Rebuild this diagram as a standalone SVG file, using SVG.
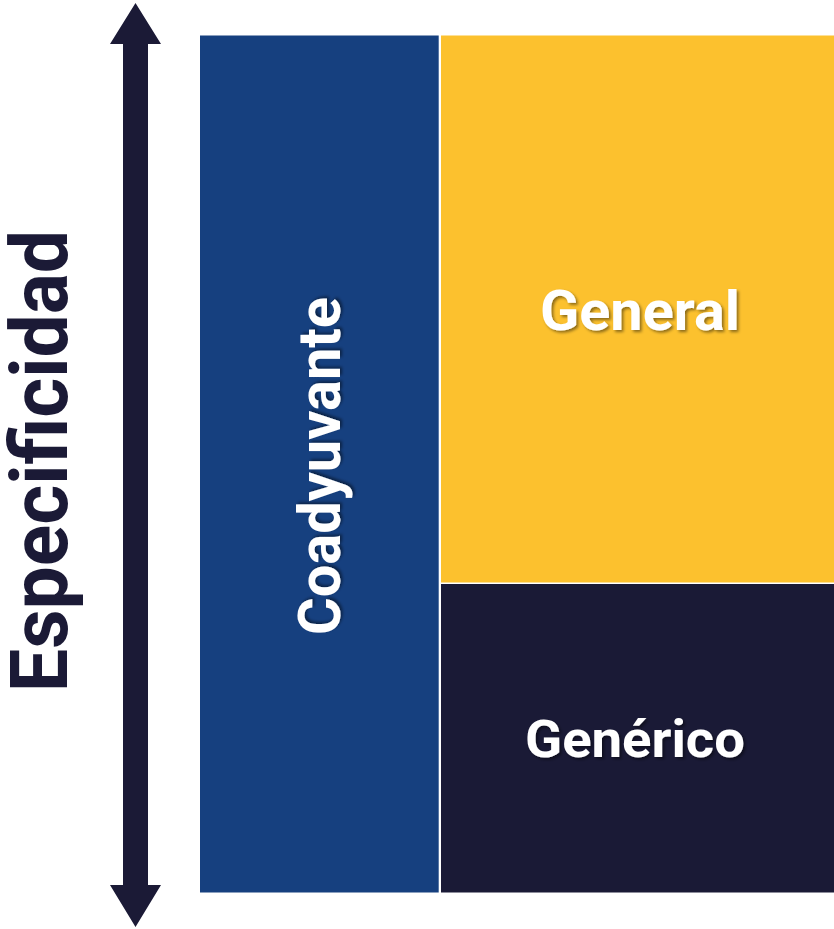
<svg xmlns="http://www.w3.org/2000/svg" width="834" height="929" viewBox="0 0 834 929">
  <style>
    .lbl { font-family: Roboto, "Open Sans", "DejaVu Sans", sans-serif; font-weight: 700; fill: #ffffff; filter: url(#shade); }
    .axis { font-family: Roboto, "Open Sans", "DejaVu Sans", sans-serif; font-weight: 700; fill: #1b1a36; }
  </style>
  <defs>
    <filter id="shade" x="-10%" y="-20%" width="130%" height="150%">
      <feDropShadow dx="2" dy="2" stdDeviation="1.5" flood-color="#000000" flood-opacity="0.45"/>
    </filter>
  </defs>
  <rect width="834" height="929" fill="#ffffff"/>

  <!-- vertical double-headed axis -->
  <g id="connectors">
    <path d="M135.5 3 L161 44 L148 44 L148 885 L161 885 L135.5 927 L110 885 L123 885 L123 44 L110 44 Z" fill="#1b1a36"/>
  </g>

  <g id="axis-label">
    <text class="axis" transform="translate(67 692) rotate(-90)" font-size="80" textLength="462" lengthAdjust="spacingAndGlyphs">Especificidad</text>
  </g>

  <g id="coadyuvante">
    <rect x="200" y="35.5" width="238.7" height="857" fill="#16407f"/>
    <text class="lbl" transform="translate(340 635) rotate(-90)" font-size="60" textLength="338" lengthAdjust="spacingAndGlyphs">Coadyuvante</text>
  </g>

  <g id="general">
    <rect x="441" y="35.5" width="393" height="547" fill="#fcc12e"/>
    <text class="lbl" x="540" y="330" font-size="55" textLength="200" lengthAdjust="spacingAndGlyphs">General</text>
  </g>

  <g id="generico">
    <rect x="441" y="584" width="393" height="308.5" fill="#1a1a36"/>
    <text class="lbl" x="525" y="757" font-size="52" textLength="220" lengthAdjust="spacingAndGlyphs">Genérico</text>
  </g>
</svg>
